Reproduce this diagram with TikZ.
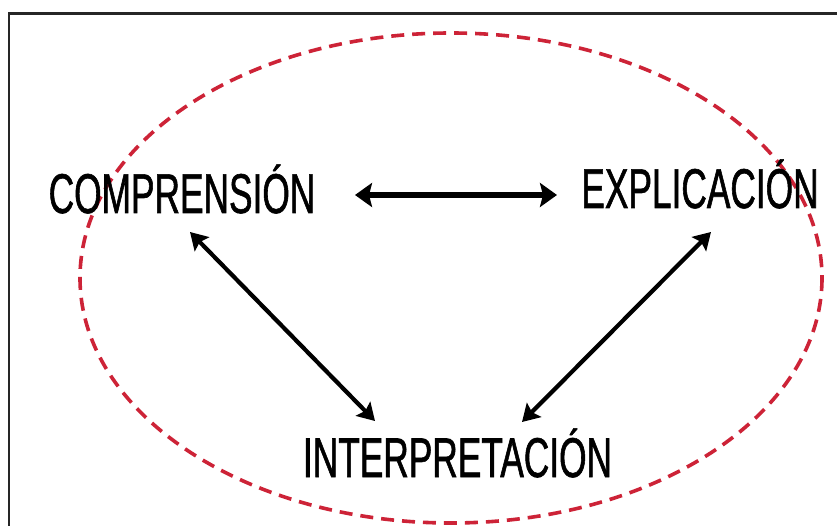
\documentclass[tikz,border=0pt]{standalone}
\usepackage{fontspec}
\newfontfamily\narrowfont[FakeStretch=0.63,FakeBold=1.0]{Liberation Sans}
\usetikzlibrary{arrows.meta}
\definecolor{dashred}{RGB}{205,35,55}
\tikzset{
  label/.style={inner sep=0pt, anchor=base, font=\narrowfont\fontsize{56}{60}\selectfont},
  dbl/.style={line width=4.2pt, {Stealth[length=17pt,width=20pt,inset=3pt]}-{Stealth[length=17pt,width=20pt,inset=3pt]}},
  dblthick/.style={line width=6pt, {Stealth[length=17pt,width=24pt,inset=3pt]}-{Stealth[length=17pt,width=24pt,inset=3pt]}},
}
\begin{document}
\begin{tikzpicture}[x=1pt,y=-1pt]
\useasboundingbox (0,0) rectangle (837,526);
\fill[white] (0,0) rectangle (837,526);
\draw[line width=2.2pt, black!85] (9,540) -- (9,13.5) -- (850,13.5);
\draw[dashred, line width=3.6pt, dash pattern=on 13pt off 8pt] (451,278) ellipse [x radius=371, y radius=245];
\node[label] (comp) at (182,213) {COMPRENSIÓN};
\node[label] (expl) at (700,208) {EXPLICACIÓN};
\node[label] (inter) at (457.5,477) {INTERPRETACIÓN};
\coordinate (h1) at (355,195);
\coordinate (h2) at (557,195);
\coordinate (l1) at (190,232);
\coordinate (l2) at (375,421);
\coordinate (r1) at (711,232);
\coordinate (r2) at (522,422);
\draw[dblthick] (h1) -- (h2);
\draw[dbl] (l1) -- (l2);
\draw[dbl] (r1) -- (r2);
\end{tikzpicture}
\end{document}
